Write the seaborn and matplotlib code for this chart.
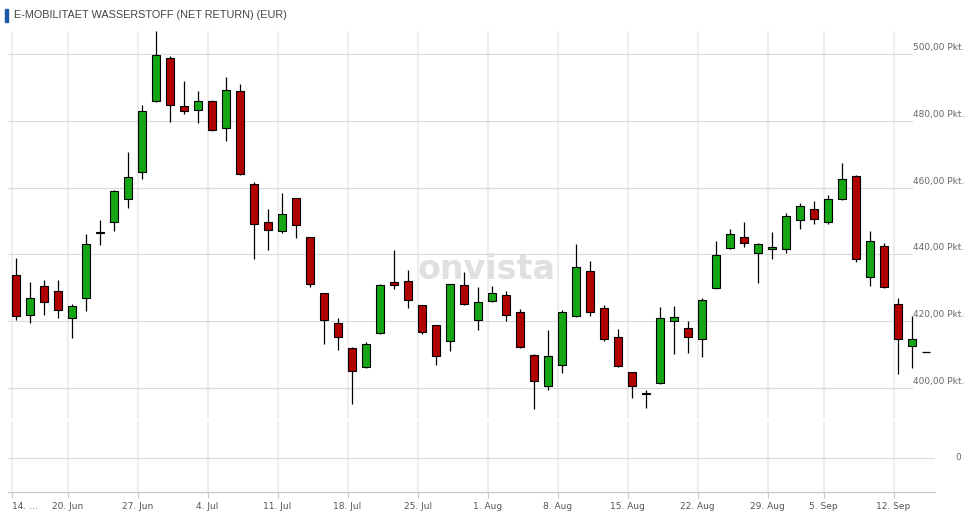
import pandas as pd
import matplotlib
matplotlib.use('Agg')
import matplotlib.pyplot as plt
import seaborn as sns
from matplotlib.patches import Rectangle
from matplotlib.transforms import blended_transform_factory

sns.set_theme(style='white')
plt.rcParams['font.family'] = ['DejaVu Sans']

# trading days 14 Jun - 13 Sep 2022 (no candle on 2 Sep)
dates = pd.bdate_range('2022-06-14', '2022-09-13').drop(pd.Timestamp('2022-09-02'))

opens = [433.8, 421.8, 430.5, 429.0, 420.9, 426.9, 446.4, 449.6, 456.5, 464.6,
         485.8, 498.7, 484.3, 483.1, 485.8, 477.7, 488.8, 461.0, 449.6, 446.9,
         456.8, 445.1, 428.4, 419.4, 412.0, 406.3, 416.4, 431.8, 432.0, 424.8,
         418.8, 414.1, 430.8, 420.3, 426.0, 427.8, 422.7, 409.9, 400.6, 406.9,
         421.6, 435.0, 423.9, 415.2, 404.8, 398.3, 401.5, 420.0, 417.9, 414.6,
         429.9, 441.9, 445.1, 440.4, 441.6, 441.6, 450.2, 453.5, 449.6, 456.5,
         463.4, 433.2, 442.5, 425.1, 412.6]
highs = [439.0, 431.8, 432.4, 432.4, 425.1, 446.1, 450.3, 459.3, 470.6, 484.6,
         506.8, 499.3, 491.9, 488.9, 486.2, 493.1, 491.0, 461.6, 453.6, 458.3,
         457.0, 445.3, 428.6, 421.1, 412.2, 413.8, 431.1, 441.3, 435.4, 425.0,
         419.0, 431.3, 434.6, 430.3, 430.6, 429.1, 423.6, 410.1, 417.4, 423.3,
         443.1, 438.1, 424.8, 417.6, 405.0, 399.6, 424.2, 424.5, 420.0, 426.9,
         444.0, 447.5, 449.6, 443.3, 446.6, 452.3, 455.3, 455.9, 457.7, 467.3,
         463.6, 446.9, 443.3, 426.9, 421.5]
lows = [420.5, 419.6, 422.0, 421.1, 415.1, 423.2, 442.8, 447.1, 454.0, 462.7,
        485.5, 479.7, 482.1, 479.4, 476.9, 474.0, 463.8, 438.7, 441.4, 446.3,
        445.0, 430.4, 413.3, 411.5, 395.4, 406.0, 416.2, 429.6, 424.1, 416.1,
        406.8, 411.0, 424.9, 417.5, 425.8, 420.2, 412.0, 393.7, 399.4, 404.5,
        421.4, 421.5, 414.1, 406.4, 397.0, 394.2, 401.3, 410.2, 410.5, 409.3,
        429.7, 441.7, 442.2, 431.6, 438.6, 440.4, 447.7, 449.0, 449.0, 456.2,
        437.7, 430.7, 430.1, 404.2, 406.0]
closes = [421.5, 426.9, 425.7, 423.3, 424.5, 443.0, 446.6, 458.9, 463.1, 482.8,
          499.6, 484.8, 482.8, 485.8, 477.1, 489.1, 464.0, 449.1, 447.2, 452.1,
          448.7, 431.1, 420.3, 415.2, 405.1, 413.2, 430.8, 430.8, 426.3, 416.7,
          409.6, 431.1, 425.2, 425.7, 428.4, 421.8, 412.3, 402.1, 409.6, 422.7,
          436.2, 422.7, 414.6, 406.6, 400.6, 398.5, 420.9, 421.2, 415.2, 426.3,
          439.8, 446.0, 443.3, 443.0, 442.2, 451.4, 454.4, 450.5, 456.5, 462.5,
          438.6, 443.9, 430.4, 414.6, 414.6]
last_price = 410.8

tick_dates = ['2022-06-14', '2022-06-20', '2022-06-27', '2022-07-04', '2022-07-11',
              '2022-07-18', '2022-07-25', '2022-08-01', '2022-08-08', '2022-08-15',
              '2022-08-22', '2022-08-29', '2022-09-05', '2022-09-12']
tick_labels = ['14. ...', '20. Jun', '27. Jun', '4. Jul', '11. Jul', '18. Jul', '25. Jul',
               '1. Aug', '8. Aug', '15. Aug', '22. Aug', '29. Aug', '5. Sep', '12. Sep']
price_ticks = [400, 420, 440, 460, 480, 500]

df = pd.DataFrame({'date': dates, 'open': opens, 'high': highs, 'low': lows, 'close': closes})
df['x'] = range(len(df))
df['up'] = df['close'] >= df['open']
df['bottom'] = df[['open', 'close']].min(axis=1)
df['height'] = (df['close'] - df['open']).abs().clip(lower=0.25)

tick_x = [dates.get_loc(pd.Timestamp(d)) - 0.33 for d in tick_dates]

fig = plt.figure(figsize=(9.68, 5.14), dpi=100)
W, H = 968, 514
left, right = 8 / W, 935 / W
ax = fig.add_axes([left, 1 - 418 / H, right - left, (418 - 31) / H])
axv = fig.add_axes([left, 1 - 492 / H, right - left, (492 - 421) / H])

xlim = (-0.59, 65.63)
for a in (ax, axv):
    a.set_xlim(*xlim)
    for tx in tick_x:
        a.axvline(tx, color='#eeeeee', lw=1.6, zorder=0)
    for s in a.spines.values():
        s.set_visible(False)
    a.set_yticks([])
    a.set_facecolor('white')

# price panel
ax.set_ylim(391.1, 506.8)
grid_end = (912 - 8) / (935 - 8)
for v in price_ticks:
    ax.axhline(v, xmin=0, xmax=grid_end, color='#dadada', lw=0.8, zorder=0.5)
    ax.text(grid_end + 0.001, v + 0.6, f'{v},00 Pkt.', transform=blended_transform_factory(ax.transAxes, ax.transData),
            ha='left', va='bottom', fontsize=6.5, color='#666666', clip_on=False)
ax.set_xticks([])

# watermark sits behind the candles
ax.text(0.5026, 1 - 279 / H, 'onvista', transform=fig.transFigure, ha='center', va='baseline',
        fontsize=24, fontweight='bold', color='#e0e0e0', zorder=1)

ax.vlines(df['x'], df['low'], df['high'], color='black', lw=0.9, zorder=2)
body_colors = ['#14a614' if u else '#b00000' for u in df['up']]
ax.bar(df['x'], df['height'], bottom=df['bottom'], width=0.57, color=body_colors,
       edgecolor='black', linewidth=0.8, zorder=3)
ax.hlines(last_price, 64.7, 65.3, color='black', lw=0.9, zorder=3)

# volume panel (empty)
axv.set_ylim(-0.92, 1)
axv.axhline(0, color='#dadada', lw=0.8, zorder=0.5)
axv.spines['bottom'].set_visible(True)
axv.spines['bottom'].set_color('#c8c8c8')
axv.spines['bottom'].set_linewidth(0.9)
axv.text(958 / W, 1 - 458 / H, '0', transform=fig.transFigure, ha='center', va='center',
         fontsize=6.5, color='#666666')
axv.set_xticks(tick_x)
axv.set_xticklabels(tick_labels, fontsize=6.5, color='#555555')
axv.tick_params(axis='x', direction='out', length=4.5, width=0.8, color='#c8c8c8', pad=3, bottom=True)
axv.get_xticklabels()[0].set_ha('left')

# title
fig.patches.append(Rectangle((5 / W, 1 - 22 / H), 3 / W, 13 / H, transform=fig.transFigure,
                             color='#1c5aa6', zorder=5))
fig.text(14 / W, 1 - 15.5 / H, 'E-MOBILITAET WASSERSTOFF (NET RETURN) (EUR)', ha='left', va='center',
         fontsize=7.8, color='#444444', family=['Liberation Sans', 'DejaVu Sans'])

fig.savefig('out.png', dpi=100)
